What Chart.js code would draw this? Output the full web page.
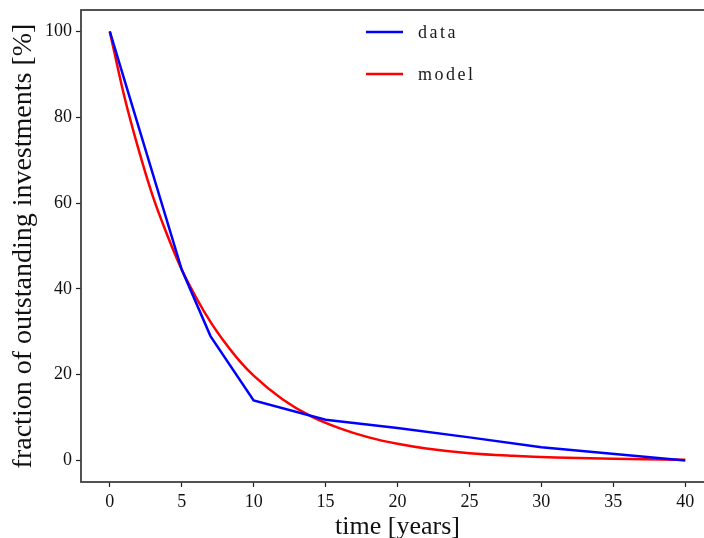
<!DOCTYPE html>
<html>
<head>
<meta charset="utf-8">
<script src="https://cdn.jsdelivr.net/npm/chart.js@4.4.1/dist/chart.umd.min.js"></script>
<style>
  html, body { margin: 0; padding: 0; background: #fff; overflow: hidden; }
  #wrap { width: 720px; height: 538px; }
</style>
</head>
<body>
<div id="wrap"><canvas id="grafico" width="720" height="538"></canvas></div>
<script>
// dados
const dataYears = [0, 5, 7, 10, 15, 20, 25, 30, 40];
const dataValues = [100, 44.5, 29, 14, 9.5, 7.6, 5.4, 3.1, 0];

const modelYears = [0, 1, 2, 3, 4, 5, 6, 7, 8, 9, 10, 12, 14, 16, 18, 20, 22, 25, 28, 31, 35, 40];
const modelValues = [100, 85, 72.5, 61.5, 52.5, 44.5, 38, 32.3, 27.5, 23.3, 19.8, 14.3, 10.3, 7.5, 5.4, 3.9, 2.8, 1.7, 1.1, 0.7, 0.4, 0.2];

const xTicks = [0, 5, 10, 15, 20, 25, 30, 35, 40];
const yTicks = [0, 20, 40, 60, 80, 100];

const serif = "'Liberation Serif', 'DejaVu Serif', serif";

// moldura e legenda dentro da area do grafico
const moldura = {
    id: 'moldura',
    afterDraw(chart) {
        const ctx = chart.ctx;
        const a = chart.chartArea;
        ctx.save();
        ctx.strokeStyle = '#404040';
        ctx.lineWidth = 1.8;
        ctx.strokeRect(a.left, a.top, a.right - a.left, a.bottom - a.top);

        ctx.font = '18px ' + serif;
        ctx.letterSpacing = '2.5px';
        ctx.textBaseline = 'middle';
        ctx.fillStyle = '#1a1a1a';
        chart.data.datasets.forEach((ds, i) => {
            const y = 32 + i * 42;
            ctx.strokeStyle = ds.borderColor;
            ctx.lineWidth = 2.5;
            ctx.beginPath();
            ctx.moveTo(366, y);
            ctx.lineTo(403, y);
            ctx.stroke();
            ctx.fillText(ds.label, 418, y + 1);
        });
        ctx.restore();
    }
};

const ctx = document.getElementById('grafico').getContext('2d');
new Chart(ctx, {
    type: 'line',
    data: {
        datasets: [{
            label: 'data',
            data: dataYears.map((x, i) => ({ x: x, y: dataValues[i] })),
            borderColor: '#0000ff',
            borderWidth: 2.5,
            pointRadius: 0,
            tension: 0,
            fill: false
        }, {
            label: 'model',
            data: modelYears.map((x, i) => ({ x: x, y: modelValues[i] })),
            borderColor: '#ff0000',
            borderWidth: 2.5,
            pointRadius: 0,
            cubicInterpolationMode: 'monotone',
            fill: false
        }]
    },
    options: {
        responsive: false,
        animation: false,
        layout: { padding: { left: 0, top: 10, right: 6, bottom: 0 } },
        plugins: {
            legend: { display: false },
            tooltip: { enabled: false }
        },
        scales: {
            x: {
                type: 'linear',
                min: -2,
                max: 42,
                afterBuildTicks: s => { s.ticks = xTicks.map(v => ({ value: v })); },
                afterFit: s => { s.height = 56; s.paddingLeft = 0; s.paddingRight = 0; },
                grid: { drawOnChartArea: false, drawTicks: true, tickLength: 5, tickColor: '#222', tickWidth: 1.2 },
                border: { display: false },
                ticks: { color: '#111', font: { family: serif, size: 18 }, padding: 4, maxRotation: 0 },
                title: { display: true, text: 'time [years]', color: '#111', font: { family: serif, size: 26, lineHeight: 0.85 }, padding: { top: 0, bottom: 0 } }
            },
            y: {
                type: 'linear',
                min: -5,
                max: 105,
                afterBuildTicks: s => { s.ticks = yTicks.map(v => ({ value: v })); },
                afterFit: s => { s.width = 81; s.paddingTop = 0; s.paddingBottom = 0; },
                grid: { drawOnChartArea: false, drawTicks: true, tickLength: 5, tickColor: '#222', tickWidth: 1.2 },
                border: { display: false },
                ticks: { color: '#111', font: { family: serif, size: 18 }, padding: 4 },
                title: { display: true, text: 'fraction of outstanding investments [%]', color: '#111', font: { family: serif, size: 28 }, padding: { top: 7, bottom: 0 } }
            }
        }
    },
    plugins: [moldura]
});
</script>
</body>
</html>
